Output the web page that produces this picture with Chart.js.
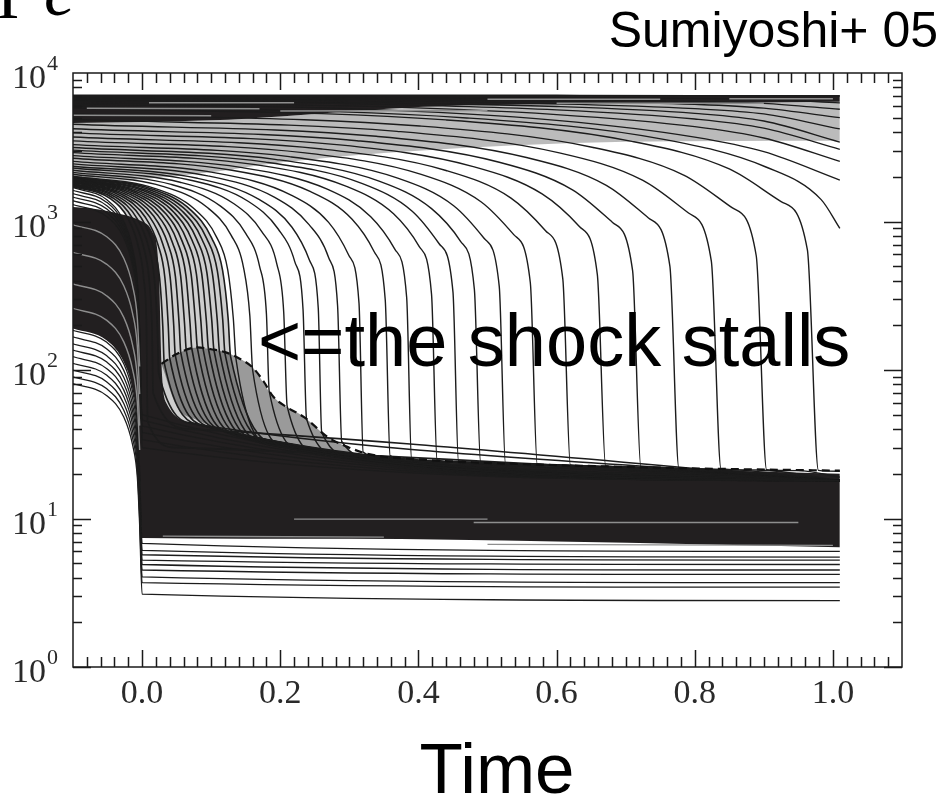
<!DOCTYPE html>
<html>
<head>
<meta charset="utf-8">
<script src="https://cdn.jsdelivr.net/npm/chart.js@4.4.0/dist/chart.umd.min.js"></script>
<style>
  html, body { margin: 0; padding: 0; background: #fff; }
  canvas { display: block; }
</style>
</head>
<body>
<canvas id="shellChart" width="941" height="797"></canvas>
<script>
// axis labels
var xTickValues = [0, 0.2, 0.4, 0.6, 0.8, 1.0];
var xTickLabels = ['0.0', '0.2', '0.4', '0.6', '0.8', '1.0'];
var yTickExponents = [0, 1, 2, 3, 4];

// inner core shells: common sample times up to bounce
var innerTimes = [-0.1, -0.051, -0.0265, -0.0138, -0.0069, -0.0035];
var innerRadii = [
  [81, 67.2, 48.2, 31.4, 19, 9],
  [90, 74.7, 53.6, 34.9, 21.1, 10],
  [100, 83, 59.5, 38.8, 23.4, 11.1],
  [111, 92.1, 66, 43.1, 26, 12.3],
  [123, 102, 73.2, 47.7, 28.8, 13.7],
  [136, 113, 80.9, 52.8, 31.8, 15.1],
  [150, 124.5, 89.3, 58.2, 35.1, 16.7],
  [167, 138.6, 99.4, 64.8, 39.1, 18.5],
  [185, 153.6, 110, 71.8, 43.3, 20.5],
  [1300, 1079, 773.5, 504.4, 304.2, 144.3],
  [1380, 1145, 821.1, 535.4, 322.9, 153.2],
  [1460, 1212, 868.7, 566.5, 341.6, 162.1],
  [1540, 1278, 916.3, 597.5, 360.4, 170.9],
  [1620, 1345, 963.9, 628.6, 379.1, 179.8],
  [1690, 1403, 1005.6, 655.7, 395.5, 187.6]
];
// radius just after bounce (t = 0) and at the end of the run
var innerLanding = [
  [3.1, 2.8], [3.7, 3.45], [4.05, 3.7], [4.5, 4.2], [4.9, 4.5],
  [5.25, 4.9], [5.7, 5.25], [6.1, 5.5], [6.8, 6.0],
  [30, 18], [34, 18], [38, 18], [42, 18], [46, 18], [50, 18]
];
// lighter streaks inside the collapsing core
var coreStreakRadii = [
  [260, 215.8, 154.7, 100.9, 60.8, 28.9],
  [380, 315.4, 226.1, 147.4, 88.9, 42.2],
  [620, 514.6, 368.9, 240.6, 145.1, 68.8],
  [950, 788.5, 565.3, 368.6, 222.3, 105.5]
];

// shells falling onto the young shock (t, r)
var earlyShells = [
  [[-0.1,1717],[-0.046,1425],[-0.019,1022],[-0.005,666],[0.0026,402],[0.0064,191],[0.008,45],[0.05,30],[1.01,18]],
  [[-0.1,1735],[-0.042,1440],[-0.013,1032],[0.0021,673],[0.0102,406],[0.0143,193],[0.016,70],[0.07,40],[1.01,18]],
  [[-0.1,1752],[-0.038,1454],[-0.007,1042],[0.0091,680],[0.0178,410],[0.0221,194],[0.024,95],[0.08,43],[1.01,18]],
  [[-0.1,1770],[-0.034,1469],[-0.001,1053],[0.0162,687],[0.0254,414],[0.03,196],[0.032,112],[0.09,42],[1.01,18]],
  [[-0.1,1787],[-0.03,1483],[0.005,1063],[0.0232,693],[0.033,418],[0.0379,198],[0.04,120],[0.1,41],[1.01,18]],
  [[-0.1,1805],[-0.026,1498],[0.011,1074],[0.0302,700],[0.0406,422],[0.0458,200],[0.048,126],[0.11,40],[1.01,18]],
  [[-0.1,1824],[-0.022,1514],[0.017,1085],[0.0373,708],[0.0482,427],[0.0537,202],[0.056,131],[0.12,39],[1.01,18]],
  [[-0.1,1842],[-0.018,1529],[0.023,1096],[0.0443,715],[0.0558,431],[0.0615,204],[0.064,135],[0.13,37.5],[1.01,18]],
  [[-0.1,1861],[-0.014,1545],[0.029,1107],[0.0514,722],[0.0634,435],[0.0694,207],[0.072,139],[0.14,36],[1.01,18]],
  [[-0.1,1880],[-0.01,1560],[0.035,1119],[0.0584,729],[0.071,440],[0.0773,209],[0.08,141],[0.15,35],[1.01,18]],
  [[-0.1,1899],[-0.006,1576],[0.041,1130],[0.0654,737],[0.0786,444],[0.0852,211],[0.088,141],[0.16,34],[1.01,18]],
  [[-0.1,1918],[-0.002,1592],[0.047,1141],[0.0725,744],[0.0862,449],[0.0931,213],[0.096,139],[0.17,33],[1.01,18]],
  [[-0.1,1937],[0.002,1608],[0.053,1153],[0.0795,752],[0.0938,453],[0.1009,215],[0.104,136],[0.18,32],[1.01,18]],
  [[-0.1,1957],[0.006,1624],[0.059,1164],[0.0866,759],[0.1014,458],[0.1088,217],[0.112,133],[0.19,31],[1.01,18]],
  [[-0.1,1977],[0.01,1641],[0.065,1176],[0.0936,767],[0.109,463],[0.1167,219],[0.12,129],[0.2,30.5],[1.01,18]],
  [[-0.1,1997],[0.014,1658],[0.071,1188],[0.1006,775],[0.1166,467],[0.1246,222],[0.128,124],[0.21,30],[1.01,18]]
];

// shells falling onto the stalled shock (t, r)
var lateShells = [
  [[-0.1,2016],[0.018,1673],[0.077,1200],[0.108,782],[0.124,472],[0.132,224],[0.136,118],[0.19,31],[1.01,18]],
  [[-0.1,2079],[0.03,1726],[0.095,1237],[0.129,807],[0.147,486],[0.156,231],[0.16,100],[0.21,30],[1.01,18]],
  [[-0.1,2142],[0.042,1778],[0.113,1274],[0.15,831],[0.17,501],[0.18,238],[0.184,72],[0.235,28.5],[1.01,18]],
  [[-0.1,2213],[0.055,1837],[0.133,1317],[0.173,859],[0.195,518],[0.205,246],[0.21,57],[0.26,27],[1.01,18]],
  [[-0.1,2293],[0.069,1903],[0.154,1364],[0.197,890],[0.221,537],[0.233,255],[0.238,47],[0.29,26],[1.01,18]],
  [[-0.1,2357],[0.08,1956],[0.17,1402],[0.217,915],[0.242,552],[0.255,262],[0.26,38],[0.31,25.5],[1.01,18]],
  [[-0.1,2445],[0.095,2029],[0.192,1455],[0.242,949],[0.27,572],[0.283,271],[0.289,33],[0.34,25],[1.01,18]],
  [[-0.1,2542],[0.11,2110],[0.215,1512],[0.27,986],[0.299,595],[0.314,282],[0.32,28],[0.37,24.5],[1.01,18]],
  [[-0.1,2669],[0.13,2215],[0.244,1588],[0.304,1036],[0.336,625],[0.352,296],[0.359,26.5],[0.41,24],[1.01,18]],
  [[-0.1,2776],[0.145,2304],[0.268,1652],[0.331,1077],[0.366,650],[0.383,308],[0.39,25.5],[0.44,23.8],[1.01,18]],
  [[-0.1,2908],[0.164,2414],[0.295,1730],[0.364,1128],[0.401,680],[0.419,323],[0.427,24.8],[0.48,23.5],[1.01,18]],
  [[-0.1,3024],[0.179,2510],[0.319,1799],[0.391,1173],[0.43,708],[0.45,336],[0.458,24.3],[0.51,23.3],[1.01,18]],
  [[-0.1,3147],[0.195,2612],[0.343,1872],[0.419,1221],[0.461,736],[0.481,349],[0.49,24],[0.54,23],[1.01,18]],
  [[-0.1,3293],[0.213,2733],[0.37,1959],[0.451,1278],[0.495,771],[0.517,366],[0.526,23.5],[0.58,22.8],[1.01,18]],
  [[-0.1,3489],[0.236,2896],[0.404,2076],[0.491,1354],[0.538,816],[0.562,387],[0.572,23.2],[0.62,22.6],[1.01,18]],
  [[-0.1,3706],[0.26,3076],[0.44,2205],[0.534,1438],[0.584,867],[0.609,411],[0.62,22.9],[0.67,22.4],[1.01,18]],
  [[-0.1,3951],[0.286,3279],[0.478,2351],[0.579,1533],[0.633,925],[0.659,439],[0.671,22.6],[0.72,22.1],[1.01,18]],
  [[-0.1,4214],[0.311,3498],[0.517,2507],[0.623,1635],[0.681,986],[0.71,468],[0.722,22.2],[0.77,21.8],[1.01,18]],
  [[-0.1,4515],[0.339,3747],[0.558,2686],[0.672,1752],[0.733,1057],[0.764,501],[0.777,21.9],[0.83,21.5],[1.01,18]],
  [[-0.1,4873],[0.369,4045],[0.604,2899],[0.725,1891],[0.791,1140],[0.824,541],[0.838,21.6],[0.89,21.2],[1.01,18]],
  [[-0.1,5296],[0.402,4396],[0.653,3151],[0.784,2055],[0.854,1239],[0.889,588],[0.904,21.3],[0.95,21],[1.01,19]],
  [[-0.1,5821],[0.44,4831],[0.709,3463],[0.85,2258],[0.925,1362],[0.963,646],[0.979,21.1],[1.01,20.8]],
  [[-0.1,6000],[0.47,4980],[0.755,3570],[0.903,2328],[0.983,1404],[1.01,900]]
];

// outer shells still falling at the end of the run
var outerTimes = [-0.1, 0.3, 0.6, 0.8, 0.9, 1.01];
var outerRadii = [
  [6150, 5750, 4800, 3700, 2950, 1900],
  [6300, 6000, 5250, 4350, 3650, 2540],
  [6450, 6200, 5650, 4900, 4250, 3060],
  [6550, 6350, 5950, 5350, 4750, 3430],
  [6650, 6500, 6200, 5750, 5300, 4200],
  [6750, 6650, 6450, 6150, 5800, 5000],
  [6850, 6800, 6650, 6450, 6250, 5700],
  [6950, 6920, 6850, 6750, 6650, 6300],
  [7100, 7100, 7080, 7050, 7030, 7000]
];

// shock radius (dashed)
var shockFront = [[0.028,110],[0.05,128],[0.08,142],[0.1,138],[0.12,132],[0.14,120],[0.16,104],[0.175,85],
  [0.19,66],[0.21,56],[0.235,48],[0.27,35],[0.3,30],[0.33,27],[0.4,25],[0.52,23.5],[0.66,22.5],[0.81,21.7],[1.01,21]];

// densely packed regions, drawn as filled bands
var bandTimes = [-0.1, 0.1, 0.2, 0.4, 0.7, 1.01];
var envelopeTop = [7100, 7100, 7100, 7100, 7100, 7100];
var envelopeBottom = [4600, 4800, 5100, 5900, 6200, 6400];
var crowdedBottom = [1750, 2150, 2500, 3000, 3450, 3500];
var coreTop = [[-0.1,1250],[-0.06,1200],[-0.03,1120],[0.0,1000],[0.015,850],[0.024,500],[0.028,110],[0.035,60],
  [0.078,44],[0.126,38],[0.18,32],[0.223,29],[0.27,26.5],[0.35,24.5],[0.44,23.6],[0.6,22.4],[0.8,21.3],[1.01,20]];
var coreBottom = [[-0.1,190],[-0.051,158],[-0.0265,113],[-0.0138,74],[-0.0069,44],[-0.0035,21],[0.0,7.4],
  [0.3,7.3],[0.6,7.0],[1.01,6.4]];
var postShockTimes = [0.028, 0.05, 0.08, 0.1, 0.12, 0.14, 0.16, 0.19, 0.235, 0.27, 0.3];
var postShockTop = [110, 128, 142, 138, 132, 120, 104, 66, 48, 35, 30];
var postShockBottom = [110, 57, 46, 42, 39, 36.5, 34.5, 31.5, 28.7, 26.5, 26];
var envelopeStreaks = [
  [[0.01,6300],[0.22,6300]], [[-0.08,5800],[0.17,5750]], [[0.2,5550],[0.5,5600]],
  [[0.5,6650],[0.75,6650]], [[0.6,6250],[0.9,6250]], [[0.85,6700],[1.0,6700]], [[-0.1,5200],[0.1,5150]]
];
var coreStreaks = [
  [[0.48,9.4],[0.95,9.4]], [[0.22,9.9],[0.5,9.9]], [[0.03,7.6],[0.35,7.5]], [[0.5,6.7],[1.0,6.6]]
];

var LINE = '#1c1c1c';
var FILL = '#221f20';
var STREAK = '#8e8e8e';
// drawing layers: a lower order is painted on top
var LAYER = { shock: 0, streak: 1, line: 2, fill: 3, haze: 4 };

function toPoints(pairs) {
  return pairs.map(function(p) { return { x: p[0], y: p[1] }; });
}
function sampled(times, radii) {
  return radii.map(function(r, j) { return { x: times[j], y: r }; });
}

var datasets = [];
function addLine(points, style) {
  var ds = Object.assign({
    data: points,
    borderColor: LINE,
    borderWidth: 1.4,
    pointRadius: 0,
    fill: false,
    cubicInterpolationMode: 'monotone',
    order: LAYER.line
  }, style || {});
  datasets.push(ds);
  return datasets.length - 1;
}
function addBand(upper, lower, color, layer) {
  var hidden = { borderWidth: 0, borderColor: 'rgba(0,0,0,0)', order: layer };
  var i = addLine(upper, hidden);
  addLine(lower, Object.assign({}, hidden, { fill: i, backgroundColor: color }));
}

addLine(toPoints(shockFront), { borderColor: '#111', borderWidth: 2.2, borderDash: [8, 5], order: LAYER.shock });

addBand(sampled(bandTimes, envelopeBottom), sampled(bandTimes, crowdedBottom), 'rgba(30,30,30,0.3)', LAYER.haze);
addBand(toPoints(earlyShells[15]), toPoints(earlyShells[0]), 'rgba(30,30,30,0.22)', LAYER.haze);
addBand(sampled(postShockTimes, postShockTop), sampled(postShockTimes, postShockBottom), 'rgba(30,30,30,0.45)', LAYER.haze);
addBand(sampled(bandTimes, envelopeTop), sampled(bandTimes, envelopeBottom), FILL, LAYER.fill);
addBand(toPoints(coreTop), toPoints(coreBottom), FILL, LAYER.fill);

outerRadii.forEach(function(r) { addLine(sampled(outerTimes, r), { borderWidth: 1.3 }); });
lateShells.forEach(function(s) { addLine(toPoints(s)); });
earlyShells.forEach(function(s) { addLine(toPoints(s), { borderWidth: 1.6 }); });
innerRadii.forEach(function(r, i) {
  var pts = sampled(innerTimes, r);
  pts.push({ x: 0.0, y: innerLanding[i][0] });
  pts.push({ x: 1.01, y: innerLanding[i][1] });
  addLine(pts, { borderWidth: 1.3 });
});
coreStreakRadii.forEach(function(r) {
  addLine(sampled(innerTimes, r), { borderColor: STREAK, borderWidth: 1.4, order: LAYER.streak });
});
envelopeStreaks.forEach(function(s) {
  addLine(toPoints(s), { borderColor: STREAK, borderWidth: 1.5, order: LAYER.streak });
});
coreStreaks.forEach(function(s) {
  addLine(toPoints(s), { borderColor: STREAK, borderWidth: 1.3, order: LAYER.streak });
});

var axesFrame = {
  id: 'axesFrame',
  afterDatasetsDraw: function(chart) {
    var ctx = chart.ctx, a = chart.chartArea;
    var xs = chart.scales.x, ys = chart.scales.y;
    ctx.save();
    ctx.strokeStyle = '#1a1a1a';
    ctx.lineWidth = 1.5;
    ctx.beginPath();
    for (var k = -4; k <= 54; k++) {
      var px = Math.round(xs.getPixelForValue(k / 50)) + 0.5;
      var len = (k % 10 === 0) ? 17 : 10;
      ctx.moveTo(px, a.bottom); ctx.lineTo(px, a.bottom - len);
      ctx.moveTo(px, a.top); ctx.lineTo(px, a.top + len);
    }
    for (var e = 0; e < 4; e++) {
      for (var m = 1; m <= 9; m++) {
        var py = Math.round(ys.getPixelForValue(m * Math.pow(10, e))) + 0.5;
        var l = (m === 1) ? 18 : 9;
        ctx.moveTo(a.left, py); ctx.lineTo(a.left + l, py);
        ctx.moveTo(a.right, py); ctx.lineTo(a.right - l, py);
      }
    }
    ctx.stroke();
    ctx.strokeRect(a.left, a.top, a.right - a.left, a.bottom - a.top);

    // tick labels
    ctx.fillStyle = '#2a2a2a';
    ctx.textBaseline = 'alphabetic';
    ctx.textAlign = 'center';
    ctx.font = '34px "Liberation Serif", "DejaVu Serif", serif';
    xTickValues.forEach(function(v, i) {
      ctx.fillText(xTickLabels[i], xs.getPixelForValue(v), a.bottom + 36);
    });
    ctx.textAlign = 'right';
    yTickExponents.forEach(function(p) {
      var py = ys.getPixelForValue(Math.pow(10, p));
      ctx.font = '22px "Liberation Serif", serif';
      ctx.fillText(String(p), a.left - 15, py - 3);
      var w = ctx.measureText(String(p)).width;
      ctx.font = '34px "Liberation Serif", serif';
      ctx.fillText('10', a.left - 16 - w, py + 15);
    });

    // annotations
    ctx.fillStyle = '#000';
    ctx.textAlign = 'left';
    ctx.font = '74px "Liberation Sans", Arial, sans-serif';
    ctx.fillText('<=the shock stalls', 258, 366);
    ctx.textAlign = 'center';
    ctx.font = '71px "Liberation Sans", Arial, sans-serif';
    ctx.fillText('Time', 497, 793);
    ctx.textAlign = 'right';
    ctx.font = '50px "Liberation Sans", Arial, sans-serif';
    ctx.fillText('Sumiyoshi+ 05', 938, 47);
    ctx.textAlign = 'left';
    ctx.font = '80px "Liberation Serif", serif';
    ctx.fillText('r', -2, 18);
    ctx.font = 'italic 70px "Liberation Serif", serif';
    ctx.fillText('c', 44, 15);
    ctx.restore();
  }
};

new Chart(document.getElementById('shellChart').getContext('2d'), {
  type: 'line',
  data: { datasets: datasets },
  options: {
    responsive: false,
    animation: false,
    devicePixelRatio: 1,
    events: [],
    layout: { padding: { left: 73, top: 73, right: 39, bottom: 130 } },
    plugins: { legend: { display: false }, tooltip: { enabled: false } },
    scales: {
      x: { type: 'linear', min: -0.1, max: 1.1, display: false },
      y: { type: 'logarithmic', min: 1, max: 10000, display: false }
    }
  },
  plugins: [axesFrame]
});
</script>
</body>
</html>
